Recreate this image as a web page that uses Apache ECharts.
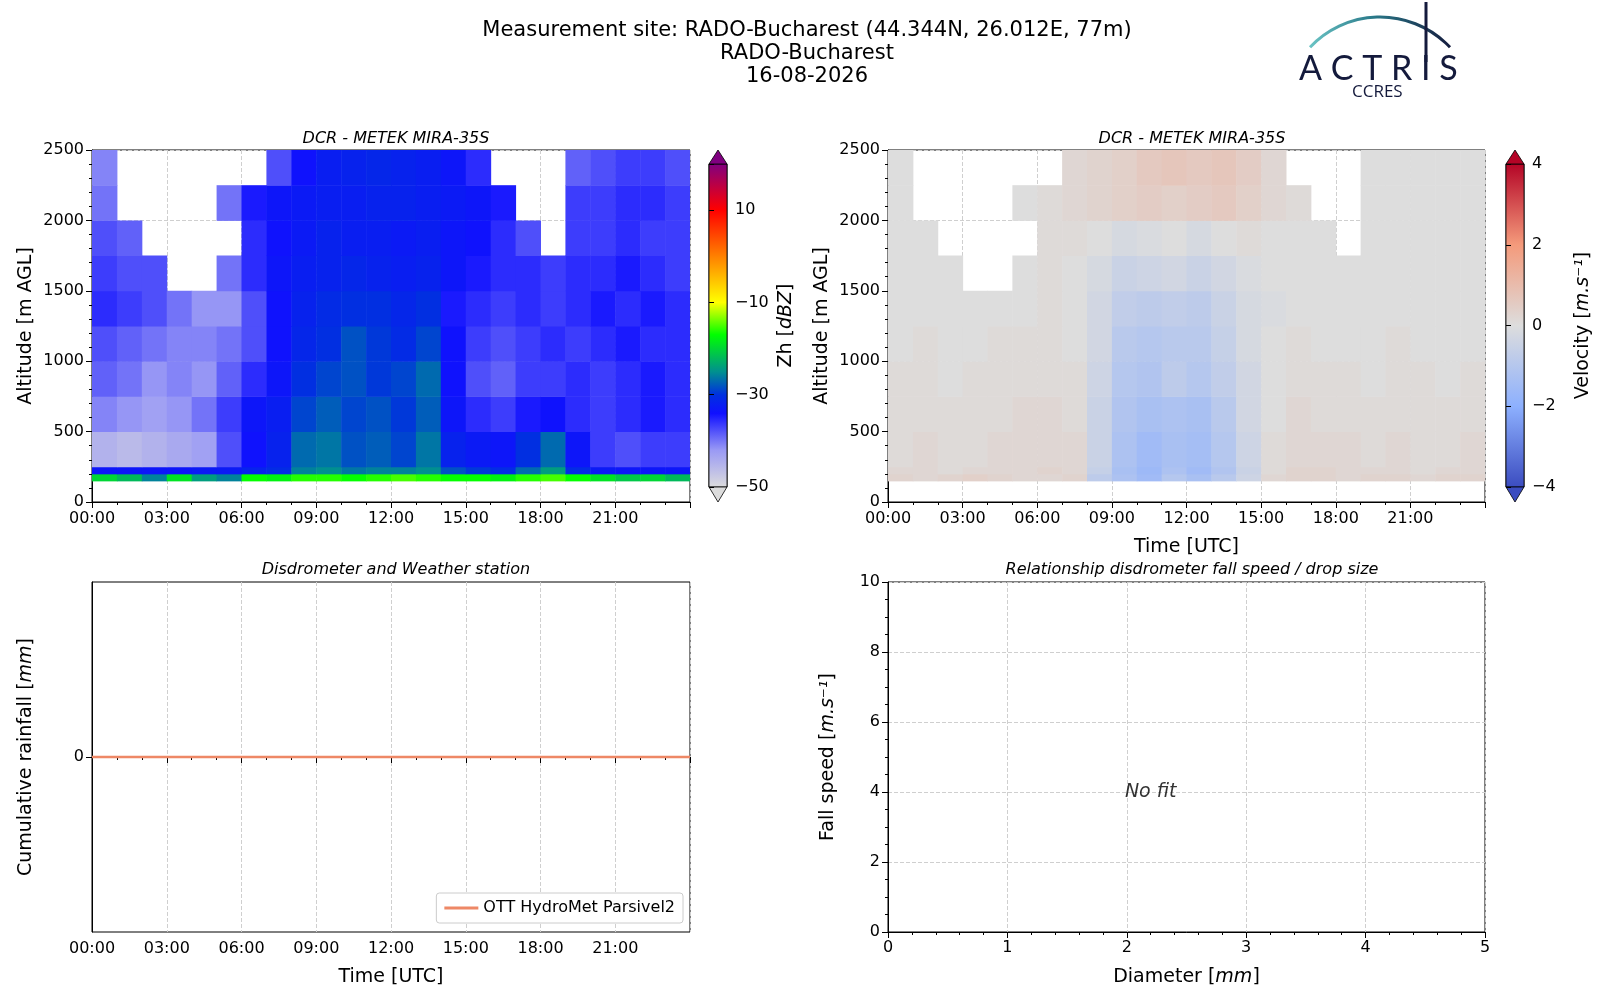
<!DOCTYPE html>
<html>
<head>
<meta charset="utf-8">
<script src="https://cdn.jsdelivr.net/npm/echarts@6/dist/echarts.min.js"></script>
<style>
  html, body { margin: 0; padding: 0; background: #fff; }
  #main { width: 1600px; height: 1000px; }
</style>
</head>
<body>
<div id="main"></div>
<script>
// radar gates (m AGL), one row per band
const heightEdges = [150, 200, 250, 500, 750, 1000, 1250, 1500, 1750, 2000, 2250, 2500];
// hourly columns 00..23 UTC, reflectivity Zh [dBZ], null = no echo
const zhRows = [
  [-14,-16,-20,-13,-18,-20,-11,-12,-10,-10,-11,-10,-9,-10,-11,-11,-12,-10,-9,-11,-13,-15,-14,-16],
  [-33,-33,-33,-33,-32,-32,-30,-28,-20,-19,-21,-20,-20,-19,-24,-26,-28,-22,-18,-28,-32,-33,-33,-33],
  [-45,-46,-45,-44,-43,-38,-34,-30,-22,-21,-24,-23,-25,-21,-30,-32,-33,-27,-22,-33,-37,-38,-37,-37],
  [-41,-42,-43,-42,-40,-37,-33,-31,-25,-23,-25,-24,-26,-23,-33,-36,-37,-35,-34,-36,-37,-36,-35,-36],
  [-39,-40,-42,-41,-42,-39,-36,-33,-27,-25,-24,-26,-25,-22,-34,-38,-39,-37,-37,-36,-37,-36,-35,-36],
  [-38,-39,-40,-41,-41,-40,-38,-34,-29,-27,-24,-26,-28,-25,-34,-37,-38,-37,-36,-37,-36,-35,-36,-36],
  [-36,-37,-38,-40,-42,-42,-38,-34,-30,-28,-27,-27,-29,-27,-35,-36,-37,-36,-37,-36,-35,-36,-35,-36],
  [-37,-38,-38,null,null,-40,-36,-33,-31,-30,-29,-30,-31,-30,-33,-35,-36,-36,-37,-36,-36,-35,-36,-37],
  [-38,-39,null,null,null,null,-36,-34,-32,-30,-31,-31,-32,-31,-33,-34,-36,-38,null,-37,-37,-36,-37,-37],
  [-40,null,null,null,null,-40,-35,-33,-32,-31,-31,-30,-30,-31,-32,-33,-35,null,null,-37,-37,-36,-36,-37],
  [-41,null,null,null,null,null,null,-38,-34,-31,-30,-29,-30,-31,-33,-36,null,null,null,-39,-38,-37,-37,-38]
];
// Doppler velocity [m/s]
const velRows = [
  [0.3,0.2,0.3,0.4,0.3,0.2,0.2,0.3,-0.8,-1.2,-1.5,-1.0,-1.3,-0.9,-0.4,0.2,0.3,0.3,0.2,0.3,0.3,0.2,0.3,0.3],
  [0.2,0.2,0.1,0.2,0.2,0.2,0.3,0.2,-0.6,-1.3,-1.6,-1.2,-1.5,-1.1,-0.5,0.1,0.3,0.3,0.2,0.2,0.2,0.1,0.2,0.2],
  [0.1,0.2,0.1,0.1,0.2,0.2,0.2,0.2,-0.5,-1.2,-1.5,-1.3,-1.4,-1.0,-0.4,0.1,0.2,0.2,0.2,0.1,0.2,0.1,0.1,0.2],
  [0.1,0.1,0.1,0.1,0.1,0.2,0.2,0.1,-0.5,-1.1,-1.3,-1.2,-1.3,-0.9,-0.3,0.0,0.2,0.1,0.1,0.1,0.1,0.1,0.1,0.1],
  [0.1,0.1,0.0,0.1,0.1,0.1,0.1,0.1,-0.4,-1.0,-1.1,-0.8,-1.0,-0.7,-0.3,0.0,0.1,0.1,0.1,0.0,0.1,0.1,0.0,0.1],
  [0.0,0.1,0.0,0.0,0.1,0.1,0.1,0.0,-0.3,-0.9,-1.0,-0.9,-0.9,-0.6,-0.2,0.0,0.1,0.0,0.0,0.0,0.1,0.0,0.0,0.0],
  [0.0,0.0,0.0,0.0,0.0,0.0,0.1,0.0,-0.3,-0.7,-0.8,-0.7,-0.8,-0.5,-0.2,-0.1,0.0,0.0,0.0,0.0,0.0,0.0,0.0,0.0],
  [0.0,0.0,0.0,null,null,0.0,0.1,0.0,-0.2,-0.5,-0.4,-0.3,-0.5,-0.3,-0.1,0.0,0.0,0.0,0.0,0.0,0.0,0.0,0.0,0.0],
  [0.0,0.0,null,null,null,null,0.1,0.1,0.0,-0.2,-0.1,0.0,-0.2,0.0,0.1,0.0,0.0,0.0,null,0.0,0.0,0.0,0.0,0.0],
  [0.0,null,null,null,null,0.0,0.1,0.2,0.3,0.4,0.5,0.4,0.5,0.6,0.4,0.2,0.1,null,null,0.0,0.0,0.0,0.0,0.0],
  [0.0,null,null,null,null,null,null,0.2,0.3,0.4,0.6,0.7,0.6,0.7,0.5,0.2,null,null,null,0.0,0.0,0.0,0.0,0.0]
];
// cumulative rainfall, disdrometer (hour, mm)
const rainHours = [0, 24];
const rainValues = [0, 0];
const timeTicks = ['00:00', '03:00', '06:00', '09:00', '12:00', '15:00', '18:00', '21:00'];
const zhTicks = [-50, -30, -10, 10];
const zhStops = [[-50,'#dcdcdc'],[-42,'#9a9af5'],[-34,'#1010ff'],[-30,'#0030e0'],[-25,'#00908f'],[-17,'#00ff00'],[-10,'#ffff00'],[0,'#ff8000'],[10,'#ff0000'],[20,'#800080']];
const velStops = [[-4,'#3b4cc0'],[-2,'#8db0fe'],[0,'#dddddd'],[2,'#f49a7b'],[4,'#b40426']];

function toCells(rows) {
  const out = [];
  rows.forEach((row, r) => row.forEach((v, h) => {
    if (v !== null) out.push([h, heightEdges[r], v, heightEdges[r + 1]]);
  }));
  return out;
}

function renderCell(params, api) {
  const p0 = api.coord([api.value(0), api.value(3)]);
  const p1 = api.coord([api.value(0) + 1, api.value(1)]);
  return {
    type: 'rect',
    shape: { x: p0[0], y: p0[1], width: p1[0] - p0[0] + 0.5, height: p1[1] - p0[1] + 0.5 },
    style: { fill: api.visual('color') }
  };
}

const font = 'DejaVu Sans';
const grids = [
  { left: 92, top: 150, width: 598, height: 352 },
  { left: 888, top: 150, width: 597, height: 352 },
  { left: 92, top: 582, width: 598, height: 350 },
  { left: 888, top: 582, width: 597, height: 350 },
  { left: 709, top: 164, width: 18, height: 323 },
  { left: 1506, top: 164, width: 18, height: 323 }
];
const dash = { show: true, lineStyle: { type: 'dashed', color: '#cfcfcf' } };
const lab = { color: '#000', fontSize: 16, fontFamily: font };
const axLine = { show: true, lineStyle: { color: '#000' } };
const tick = { show: true, length: 6, lineStyle: { color: '#000' } };
const minor = { show: true, splitNumber: 3, length: 3, lineStyle: { color: '#000' } };
const nameStyle = { color: '#000', fontSize: 19, fontFamily: font };
const it = { fontStyle: 'italic', fontSize: 19, fontFamily: font, color: '#000' };

function timeAxis(g, name) {
  return {
    type: 'value', gridIndex: g, min: 0, max: 24, interval: 3,
    axisLabel: Object.assign({ formatter: v => timeTicks[v / 3] || '', margin: 9 }, lab),
    axisLine: axLine, axisTick: tick, minorTick: minor, splitLine: dash,
    name: name, nameLocation: 'middle', nameGap: 36, nameTextStyle: nameStyle
  };
}
function altAxis(g) {
  return {
    type: 'value', gridIndex: g, min: 0, max: 2500, interval: 500,
    axisLabel: Object.assign({ formatter: v => String(v) }, lab), axisLine: axLine, axisTick: tick,
    minorTick: { show: true, splitNumber: 5, length: 3, lineStyle: { color: '#000' } }, splitLine: dash,
    name: 'Altitude [m AGL]', nameLocation: 'middle', nameGap: 56, nameTextStyle: nameStyle
  };
}
function cbarAxis(g, min, max, interval, name, fmt) {
  return {
    type: 'value', gridIndex: g, position: 'right', min: min, max: max, interval: interval,
    axisLabel: Object.assign({ formatter: fmt }, lab), axisLine: { show: false },
    axisTick: { show: true, length: 5, lineStyle: { color: '#000' } },
    splitLine: { show: false },
    name: name, nameLocation: 'middle', nameGap: 50, nameRotate: 90,
    nameTextStyle: { rich: { n: nameStyle, i: it } }
  };
}
function cbarGraphics(g, stops, min, max) {
  const gr = grids[g], x = gr.left, w = gr.width, top = gr.top, bot = gr.top + gr.height;
  const cs = stops.map(s => ({ offset: (s[0] - min) / (max - min), color: s[1] }));
  return [
    { type: 'rect', shape: { x: x, y: top, width: w, height: bot - top },
      style: { fill: new echarts.graphic.LinearGradient(0, 1, 0, 0, cs), stroke: '#000', lineWidth: 0.8 } },
    { type: 'polygon', shape: { points: [[x, top], [x + w, top], [x + w / 2, top - 14]] },
      style: { fill: stops[stops.length - 1][1], stroke: '#000', lineWidth: 0.8 } },
    { type: 'polygon', shape: { points: [[x, bot], [x + w, bot], [x + w / 2, bot + 15]] },
      style: { fill: stops[0][1], stroke: '#000', lineWidth: 0.8 } }
  ];
}

const chart = echarts.init(document.getElementById('main'));
const titleText = (t, x, y) => ({ text: t, left: x, top: y, textAlign: 'center',
  textStyle: { fontSize: 16, fontStyle: 'italic', fontWeight: 'normal', fontFamily: font, color: '#000' } });

chart.setOption({
  animation: false,
  backgroundColor: '#fff',
  title: [
    { text: 'Measurement site: RADO-Bucharest (44.344N, 26.012E, 77m)\nRADO-Bucharest\n16-08-2026',
      left: 802, top: 14, textAlign: 'center',
      textStyle: { fontSize: 21, fontWeight: 'normal', fontFamily: font, color: '#000', lineHeight: 23, align: 'center' } },
    titleText('DCR - METEK MIRA-35S', 391, 126),
    titleText('DCR - METEK MIRA-35S', 1187, 126),
    titleText('Disdrometer and Weather station', 391, 557),
    titleText('Relationship disdrometer fall speed / drop size', 1187, 557)
  ],
  grid: grids.map(g => Object.assign({ show: true, borderColor: '#000', borderWidth: 1, backgroundColor: 'transparent' }, g)),
  xAxis: [
    timeAxis(0, ''),
    timeAxis(1, 'Time [UTC]'),
    timeAxis(2, 'Time [UTC]'),
    { type: 'value', gridIndex: 3, min: 0, max: 5, interval: 1, axisLabel: lab, axisLine: axLine, axisTick: tick,
      minorTick: { show: true, splitNumber: 5, length: 3, lineStyle: { color: '#000' } }, splitLine: dash,
      name: '{n|Diameter [}{i|mm}{n|]}', nameLocation: 'middle', nameGap: 36,
      nameTextStyle: { rich: { n: nameStyle, i: it } } },
    { type: 'value', gridIndex: 4, show: false, min: 0, max: 1 },
    { type: 'value', gridIndex: 5, show: false, min: 0, max: 1 }
  ],
  yAxis: [
    altAxis(0),
    altAxis(1),
    { type: 'value', gridIndex: 2, min: -1, max: 1, interval: 1,
      axisLabel: Object.assign({ customValues: [0] }, lab),
      axisLine: axLine, axisTick: Object.assign({ customValues: [0] }, tick), splitLine: { show: false },
      name: '{n|Cumulative rainfall [}{i|mm}{n|]}', nameLocation: 'middle', nameGap: 56,
      nameTextStyle: { rich: { n: nameStyle, i: it } } },
    { type: 'value', gridIndex: 3, min: 0, max: 10, interval: 2, axisLabel: lab, axisLine: axLine, axisTick: tick,
      minorTick: { show: true, splitNumber: 4, length: 3, lineStyle: { color: '#000' } }, splitLine: dash,
      name: '{n|Fall speed [}{i|m.s⁻¹}{n|]}', nameLocation: 'middle', nameGap: 50,
      nameTextStyle: { rich: { n: nameStyle, i: it } } },
    cbarAxis(4, -50, 20, 20, '{n|Zh [}{i|dBZ}{n|]}', v => zhTicks.indexOf(v) >= 0 ? String(v).replace('-', '−') : ''),
    cbarAxis(5, -4, 4, 2, '{n|Velocity [}{i|m.s⁻¹}{n|]}', v => String(v).replace('-', '−'))
  ],
  visualMap: [
    { type: 'continuous', show: false, seriesIndex: 0, dimension: 2, min: -50, max: 20,
      inRange: { color: zhStops.map(s => s[1]) } },
    { type: 'continuous', show: false, seriesIndex: 1, dimension: 2, min: -4, max: 4,
      inRange: { color: velStops.map(s => s[1]) } }
  ],
  legend: {
    data: ['OTT HydroMet Parsivel2'], right: 917, top: 893,
    orient: 'vertical', backgroundColor: '#fff', borderColor: '#ccc', borderWidth: 1, borderRadius: 3,
    padding: [7, 8], itemWidth: 34, itemHeight: 3, icon: 'rect',
    textStyle: { fontSize: 16, fontFamily: font, color: '#000' }
  },
  graphic: cbarGraphics(4, zhStops, -50, 20).concat(cbarGraphics(5, velStops, -4, 4)).concat([
    { type: 'arc', shape: { cx: 1380, cy: 113, r: 96, startAngle: Math.PI * 1.24, endAngle: Math.PI * 1.76 },
      style: { fill: 'none', lineWidth: 3,
        stroke: new echarts.graphic.LinearGradient(0, 0, 1, 0, [{ offset: 0, color: '#6cc6c6' }, { offset: 0.45, color: '#2a7a8a' }, { offset: 1, color: '#141a3c' }]) } },
    { type: 'line', shape: { x1: 1426, y1: 2, x2: 1426, y2: 62 }, style: { stroke: '#141a3c', lineWidth: 3 } },
    { type: 'text', left: 1299, top: 52, style: { text: 'A C T R I S', fontSize: 34, fontFamily: 'Lato', fill: '#141a3c' } },
    { type: 'text', left: 1352, top: 84, style: { text: 'CCRES', fontSize: 17, fontFamily: 'Open Sans', fill: '#141a3c' } }
  ]),
  series: [
    { type: 'custom', xAxisIndex: 0, yAxisIndex: 0, clip: true, renderItem: renderCell, data: toCells(zhRows) },
    { type: 'custom', xAxisIndex: 1, yAxisIndex: 1, clip: true, renderItem: renderCell, data: toCells(velRows) },
    { type: 'line', name: 'OTT HydroMet Parsivel2', xAxisIndex: 2, yAxisIndex: 2, symbol: 'none',
      lineStyle: { color: '#ee8866', width: 2.5 }, itemStyle: { color: '#ee8866' },
      data: rainHours.map((h, i) => [h, rainValues[i]]) },
    { type: 'scatter', xAxisIndex: 3, yAxisIndex: 3, symbolSize: 0, data: [[2.2, 4]],
      label: { show: true, formatter: 'No fit', position: 'inside', fontSize: 19, fontStyle: 'italic', fontFamily: font, color: '#000' } }
  ]
});
</script>
</body>
</html>
